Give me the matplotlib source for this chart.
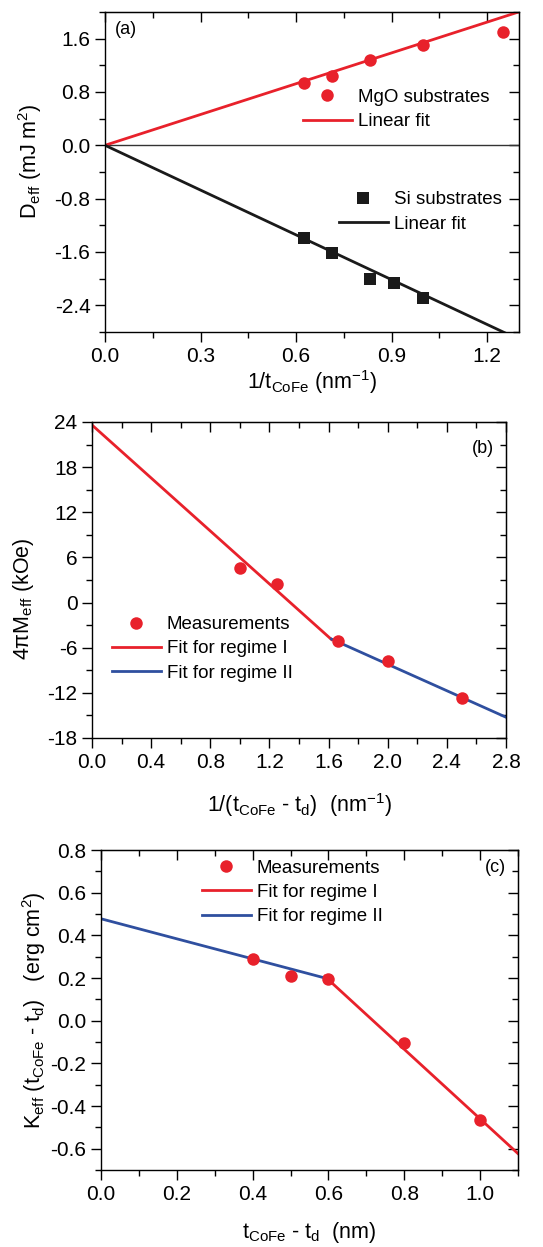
import numpy as np
import matplotlib.pyplot as plt
from matplotlib.ticker import MultipleLocator

plt.rcParams['font.family'] = ['Liberation Sans', 'DejaVu Sans']
plt.rcParams['mathtext.fontset'] = 'custom'
plt.rcParams['mathtext.rm'] = 'Liberation Sans'
plt.rcParams['mathtext.it'] = 'Liberation Sans:italic'
plt.rcParams['mathtext.bf'] = 'Liberation Sans:bold'
plt.rcParams['axes.unicode_minus'] = False

RED = '#e8212b'
BLUE = '#2f4f9f'

# (a) D_eff vs 1/t
inv_t_mgo = [0.625, 0.714, 0.833, 1.0, 1.25]
d_mgo = [0.93, 1.04, 1.28, 1.51, 1.70]
inv_t_si = [0.625, 0.714, 0.833, 0.909, 1.0]
d_si = [-1.39, -1.61, -2.0, -2.07, -2.29]
slope_mgo = 1.54
slope_si = -2.24

# (b) 4piM_eff vs 1/(t - td)
inv_teff = [1.0, 1.25, 1.667, 2.0, 2.5]
m_eff = [4.6, 2.5, -5.1, -7.8, -12.7]
fit_b1 = (23.6, -17.6, 0.0, 1.62)   # intercept, slope, x from, x to
fit_b2 = (9.4, -8.8, 1.62, 2.8)

# (c) K_eff*(t - td) vs (t - td)
t_eff = [0.4, 0.5, 0.6, 0.8, 1.0]
k_eff = [0.29, 0.21, 0.195, -0.105, -0.464]
fit_c1 = (1.17, -1.63, 0.59, 1.1)
fit_c2 = (0.478, -0.47, 0.0, 0.59)


def fit_line(ax, fit, color, label):
    a, b, x0, x1 = fit
    xs = np.array([x0, x1])
    ax.plot(xs, a + b * xs, color=color, lw=2, label=label)


def style(ax, xmaj, xmin, ymaj, ymin):
    ax.xaxis.set_major_locator(MultipleLocator(xmaj))
    ax.xaxis.set_minor_locator(MultipleLocator(xmin))
    ax.yaxis.set_major_locator(MultipleLocator(ymaj))
    ax.yaxis.set_minor_locator(MultipleLocator(ymin))
    ax.tick_params(which='both', direction='out', width=1, labelsize=15)
    ax.tick_params(which='major', length=7)
    ax.tick_params(which='minor', length=4)
    for s in ax.spines.values():
        s.set_linewidth(1)
    top = ax.secondary_xaxis('top')
    top.xaxis.set_major_locator(MultipleLocator(xmaj))
    top.xaxis.set_minor_locator(MultipleLocator(xmin))
    top.tick_params(which='both', direction='in', labeltop=False, width=1)
    top.tick_params(which='major', length=7)
    top.tick_params(which='minor', length=4)
    right = ax.secondary_yaxis('right')
    right.yaxis.set_major_locator(MultipleLocator(ymaj))
    right.yaxis.set_minor_locator(MultipleLocator(ymin))
    right.tick_params(which='both', direction='in', labelright=False, width=1)
    right.tick_params(which='major', length=7)
    right.tick_params(which='minor', length=4)


fig = plt.figure(figsize=(5.43, 12.47), dpi=100)

leg_kw = dict(frameon=False, fontsize=13.5, handlelength=2.6, handletextpad=0.32,
              borderpad=0, borderaxespad=0, labelspacing=0.38, loc='upper left')

# ---- panel (a)
ax1 = fig.add_axes([0.1934, 0.7338, 0.7624, 0.2566])
ax1.axhline(0, color='#333333', lw=1)
x = np.array([0, 1.3])
m1, = ax1.plot(inv_t_mgo, d_mgo, 'o', color=RED, ms=9, mew=0, label='MgO substrates')
l1, = ax1.plot(x, slope_mgo * x, color=RED, lw=2, label='Linear fit')
m2, = ax1.plot(inv_t_si, d_si, 's', color='#1a1a1a', ms=8.5, mew=0, label='Si substrates')
l2, = ax1.plot(x, slope_si * x, color='#1a1a1a', lw=2, label='Linear fit')
ax1.set_xlim(0, 1.3)
ax1.set_ylim(-2.8, 2.0)
style(ax1, 0.3, 0.15, 0.8, 0.4)
leg1 = ax1.legend(handles=[m1, l1], bbox_to_anchor=(0.478, 0.76), **leg_kw)
ax1.add_artist(leg1)
ax1.legend(handles=[m2, l2], bbox_to_anchor=(0.565, 0.44), **leg_kw)
ax1.text(0.025, 0.945, '(a)', transform=ax1.transAxes, fontsize=13, va='center')
ax1.set_xlabel(r'1/t$_{\rm CoFe}$ (nm$^{-1}$)', fontsize=15.5, labelpad=2)
ax1.set_ylabel(r'D$_{\rm eff}$ (mJ m$^{2}$)', fontsize=15.5)
ax1.yaxis.set_label_coords(-0.147, 0.534)

# ---- panel (b)
ax2 = fig.add_axes([0.1694, 0.4082, 0.7624, 0.2534])
ax2.plot(inv_teff, m_eff, 'o', color=RED, ms=9, mew=0, label='Measurements', zorder=3)
fit_line(ax2, fit_b1, RED, 'Fit for regime I')
fit_line(ax2, fit_b2, BLUE, 'Fit for regime II')
ax2.set_xlim(0, 2.8)
ax2.set_ylim(-18, 24)
style(ax2, 0.4, 0.2, 6, 3)
ax2.legend(bbox_to_anchor=(0.048, 0.386), **leg_kw)
ax2.text(0.97, 0.915, '(b)', transform=ax2.transAxes, fontsize=13, va='center', ha='right')
ax2.set_xlabel(r'1/(t$_{\rm CoFe}$ - t$_{\rm d}$)  (nm$^{-1}$)', fontsize=15.5, labelpad=14)
ax2.set_ylabel(r'4πM$_{\rm eff}$ (kOe)', fontsize=15.5)
ax2.yaxis.set_label_coords(-0.135, 0.44)

# ---- panel (c)
ax3 = fig.add_axes([0.186, 0.0617, 0.768, 0.2566])
ax3.plot(t_eff, k_eff, 'o', color=RED, ms=9, mew=0, label='Measurements', zorder=3)
fit_line(ax3, fit_c1, RED, 'Fit for regime I')
fit_line(ax3, fit_c2, BLUE, 'Fit for regime II')
ax3.set_xlim(0, 1.1)
ax3.set_ylim(-0.7, 0.8)
style(ax3, 0.2, 0.1, 0.2, 0.1)
ax3.legend(bbox_to_anchor=(0.242, 0.97), **leg_kw)
ax3.text(0.97, 0.945, '(c)', transform=ax3.transAxes, fontsize=13, va='center', ha='right')
ax3.set_xlabel(r't$_{\rm CoFe}$ - t$_{\rm d}$  (nm)', fontsize=15.5, labelpad=12)
ax3.set_ylabel(r'K$_{\rm eff}$ (t$_{\rm CoFe}$ - t$_{\rm d}$)   (erg cm$^{2}$)', fontsize=15.5, labelpad=2)

fig.savefig('out.png', dpi=100)
